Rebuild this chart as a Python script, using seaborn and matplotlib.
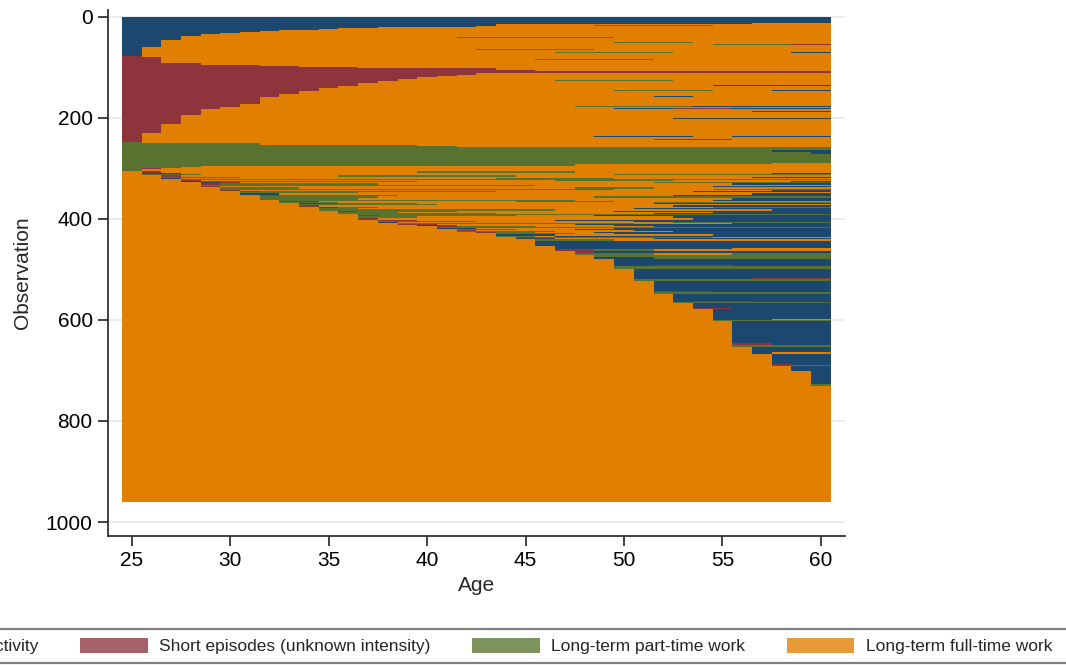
import numpy as np
import pandas as pd
import matplotlib
matplotlib.use("Agg")
import matplotlib.pyplot as plt
from matplotlib.colors import ListedColormap
from matplotlib.patches import Patch
from matplotlib.lines import Line2D
import seaborn as sns

# ---------------------------------------------------------------------------
# States and ages
# ---------------------------------------------------------------------------
ages = list(range(25, 61))
state_codes = ["N", "S", "P", "F"]
state_labels = [
    "No activity",
    "Short episodes (unknown intensity)",
    "Long-term part-time work",
    "Long-term full-time work",
]
state_colors = ["#1c4870", "#8e343d", "#58732f", "#e07f00"]

x_tick_ages = [25, 30, 35, 40, 45, 50, 55, 60]
y_tick_obs = [0, 200, 400, 600, 800, 1000]

# ---------------------------------------------------------------------------
# Sequence groups, listed top to bottom.  Each entry: number of people that
# share a pattern, and the pattern as "<state><age at which it begins>".
# ---------------------------------------------------------------------------
inactive_rows = [12, 2, 2, 2, 2, 1, 1, 1, 2, 1, 1, 3, 1, 3, 3,
                 3, 2, 4, 4, 1, 3, 2, 3, 5, 2, 4, 2, 5]
inactive_spells = ["N25", "N25 F57", "N25 F44", "N25 F44 P49 F55", "N25 F43", "N25 F38",
                   "N25 F37", "N25 F36", "N25 F35", "N25 F34", "N25 F33", "N25 F32",
                   "N25 F31", "N25 F30", "N25 F29",
                   "N25 F28", "N25 F28 P42 F50", "N25 F28",
                   "N25 F27", "N25 F27 P50 F54", "N25 F27", "N25 F27 P55 S59", "N25 F27",
                   "N25 F26", "N25 F26 P43 F49", "N25 F26", "N25 F26 P47 F53 N59", "N25 F26"]

short_rows = [2, 4, 2, 1, 5, 4, 2, 2, 2, 3, 3, 4,
              4, 2, 2, 4, 2, 2, 4, 3, 3, 4, 4, 2, 5, 4, 2,
              6, 1, 7, 4, 2, 2, 2, 5, 2, 5, 6, 2, 10, 9, 1, 8,
              6, 2, 4, 2, 4]
short_spells = ["S25 F26", "S25 F27", "S25 F27 P46 F52", "S25 N27 F28", "S25 F27",
                "S25 F29", "S25 F32", "S25 F34", "S25 F37", "S25 F44", "S25 F46", "S25",
                "S25 F43", "S25 F42", "S25 F41", "S25 F40", "S25 F39", "S25 F39 P47 F53",
                "S25 F38", "S25 F37", "S25 F37 N55", "S25 F36", "S25 F35",
                "S25 F35 P50 F55 N58", "S25 F34", "S25 F33", "S25 F33 N52 F54",
                "S25 F32", "S25 F32 N58", "S25 F32", "S25 F31", "S25 F31 P48 N54",
                "S25 F30", "S25 F30 N50 S53 N56",
                "S25 F29", "S25 F29 N57", "S25 F29", "S25 F28", "S25 F28 N53", "S25 F28",
                "S25 F27", "S25 F27 N52", "S25 F27",
                "S25 F26", "S25 F26 N49 F54 N56", "S25 F26", "S25 F26 S52 F56", "S25 F26"]

parttime_rows = [2, 3, 2, 2, 6, 4, 4, 18, 2, 4, 2, 2, 2, 4]
parttime_spells = ["P25 F26", "P25 F32", "P25 F40", "P25 F42", "P25", "P25 N58",
                   "P25 N60", "P25", "P25 F58", "P25 F48", "P25 F29", "P25 F28",
                   "P25 S26 F27", "P25 F26"]

fulltime_early_rows = [3, 2, 3,
                       3, 3, 2,
                       2, 2, 2,
                       2, 3, 3, 2,
                       3, 3, 2,
                       2, 2, 3,
                       3, 4, 3,
                       2, 2, 2,
                       2, 3, 3,
                       3, 2, 3,
                       2, 2, 2,
                       3, 2, 4, 3,
                       2, 2, 2,
                       2, 2,
                       2,
                       2, 2, 2,
                       2, 2, 2,
                       2,
                       2, 3, 3,
                       2, 2]
fulltime_early_spells = ["F25 S26 F27 P40 F48", "F25 N26 F28 N58", "F25 P26 F29 P50",
                         "F25 S27 F28 P36 F45", "F25 P27 F31 N57", "F25 N27 F28 P44 F50",
                         "F25 P28", "F25 S28 F29 P47 F53", "F25 N28 P29 F40 N59",
                         "F25 N29 S30 F31 P52", "F25 S29 P30 F38 N56", "F25 P29 F46",
                         "F25 S29 F30 N55",
                         "F25 P30 F34 P48 F52", "F25 P30 F50 P55", "F25 S30 F31 N58",
                         "F25 S31 P32 F44 N54", "F25 P31 F37", "F25 N31 F33 N57",
                         "F25 S32 P33 F39 N53", "F25 P32 F38 P49", "F25 P32 F37 N56",
                         "F25 P33 F48 N55", "F25 S33 F35 P45 F50", "F25 P33 F36 P52",
                         "F25 N34 S35 P36 F40 N52", "F25 P34 F41", "F25 S34 F35 N53",
                         "F25 N35 P36 F38 P55", "F25 P35 F37 N51", "F25 P35 F47 N58",
                         "F25 S36 P37 F42 N50", "F25 P36 F39 N55", "F25 P36 F44 N52",
                         "F25 P37", "F25 S37 P38 F45 N49", "F25 P37 F40 N53", "F25 S37 F38 N54",
                         "F25 S38 F40 N47", "F25 P38 F43 N51", "F25 N38 F39 P53",
                         "F25 P39 F51 N56", "F25 S39 F41 N48",
                         "F25 N40 S41 F42 N50",
                         "F25 S41 P42 F46 N52", "F25 P41", "F25 N41 F43 N50",
                         "F25 P42 F45 N48", "F25 S42 F43 N51", "F25 P42 F47 N53",
                         "F25 S43 P44 F46 N49",
                         "F25 P44 F48 N50", "F25 N44 F47 N55", "F25 P44 F46 N47",
                         "F25 S45 P46 F55", "F25 N45 F47 N52"]

fulltime_late_rows = [3, 1, 9,
                      5, 2, 3,
                      4, 4,
                      4, 4,
                      12, 3, 5,
                      18, 2, 4,
                      20, 2, 4,
                      13, 2, 2,
                      10, 2,
                      20, 2, 2,
                      44, 3, 4,
                      10, 4,
                      20, 2, 2,
                      10,
                      26, 4,
                      229]
fulltime_late_spells = ["F25 P46 F50", "F25 N46 S56 N58", "F25 N46",
                        "F25 N47", "F25 N47 F56", "F25 S47 P49 F52",
                        "F25 S48 N49", "F25 P48 F52 P56",
                        "F25 P49", "F25 N49 P52",
                        "F25 N50", "F25 N50 S52 N56", "F25 P50",
                        "F25 N51", "F25 N51 S57", "F25 P51",
                        "F25 N52", "F25 S52 N55", "F25 P52",
                        "F25 N53", "F25 N53 S54 N57", "F25 P53",
                        "F25 N54", "F25 S54 N56",
                        "F25 N55", "F25 N55 F58", "F25 P55",
                        "F25 N56", "F25 S56 N58", "F25 P56",
                        "F25 N57", "F25 N57 F58",
                        "F25 N58", "F25 S58 N59", "F25 S58 P59",
                        "F25 N59",
                        "F25 N60", "F25 P60",
                        "F25"]

groups = [
    (inactive_rows, inactive_spells),
    (short_rows, short_spells),
    (parttime_rows, parttime_spells),
    (fulltime_early_rows, fulltime_early_spells),
    (fulltime_late_rows, fulltime_late_spells),
]


def expand(pattern):
    """Turn 'F25 N50' into one state code per age."""
    seq = np.empty(len(ages), dtype=int)
    tokens = pattern.split()
    for k, tok in enumerate(tokens):
        state = state_codes.index(tok[0])
        start = int(tok[1:]) - ages[0]
        end = int(tokens[k + 1][1:]) - ages[0] if k + 1 < len(tokens) else len(ages)
        seq[start:end] = state
    return seq


rows = []
for counts, patterns in groups:
    for n, pat in zip(counts, patterns):
        rows.extend([expand(pat)] * n)
sequences = pd.DataFrame(np.array(rows), columns=ages)

# ---------------------------------------------------------------------------
# Figure
# ---------------------------------------------------------------------------
sns.set_theme(style="white")
plt.rcParams["font.family"] = ["Liberation Sans", "DejaVu Sans"]

fig = plt.figure(figsize=(10.66, 6.65), dpi=100)
ax = fig.add_axes([0.1013, 0.194, 0.6914, 0.791])

sns.heatmap(sequences, cmap=ListedColormap(state_colors), vmin=-0.5, vmax=3.5,
            cbar=False, xticklabels=False, yticklabels=False, ax=ax)

ax.set_xlim(-0.704, 36.726)
ax.set_ylim(1027.7, -13.9)

ax.set_xticks([a - ages[0] + 0.5 for a in x_tick_ages])
ax.set_xticklabels([str(a) for a in x_tick_ages])
ax.set_yticks(y_tick_obs)
ax.set_yticklabels([str(v) for v in y_tick_obs])

ax.grid(axis="y", color="#e8eef0", lw=1.5)
ax.set_axisbelow(True)

for side in ("left", "bottom"):
    ax.spines[side].set_visible(True)
    ax.spines[side].set_color("#333333")
    ax.spines[side].set_linewidth(1.3)
for side in ("top", "right"):
    ax.spines[side].set_visible(False)

ax.tick_params(axis="both", which="major", direction="out", length=7, width=1.3,
               color="#333333", labelsize=15, labelcolor="black", pad=4,
               left=True, bottom=True)

ax.set_xlabel("Age", fontsize=15, labelpad=4)
ax.set_ylabel("Observation", fontsize=15, labelpad=10)

handles = [Patch(facecolor=c, edgecolor="none", alpha=0.78) for c in state_colors]
fig.legend(handles, state_labels, ncol=4, loc="center right",
           bbox_to_anchor=(0.9934, 0.0286), frameon=False, fontsize=12.5,
           handlelength=3.9, handleheight=1.0, handletextpad=0.65,
           columnspacing=2.4, borderaxespad=0)

for yy in (1 - 629 / 665, 1 - 663 / 665):
    fig.add_artist(Line2D([0, 1], [yy, yy], transform=fig.transFigure,
                          color="#808080", lw=1.6))

fig.savefig("out.png", dpi=100)
